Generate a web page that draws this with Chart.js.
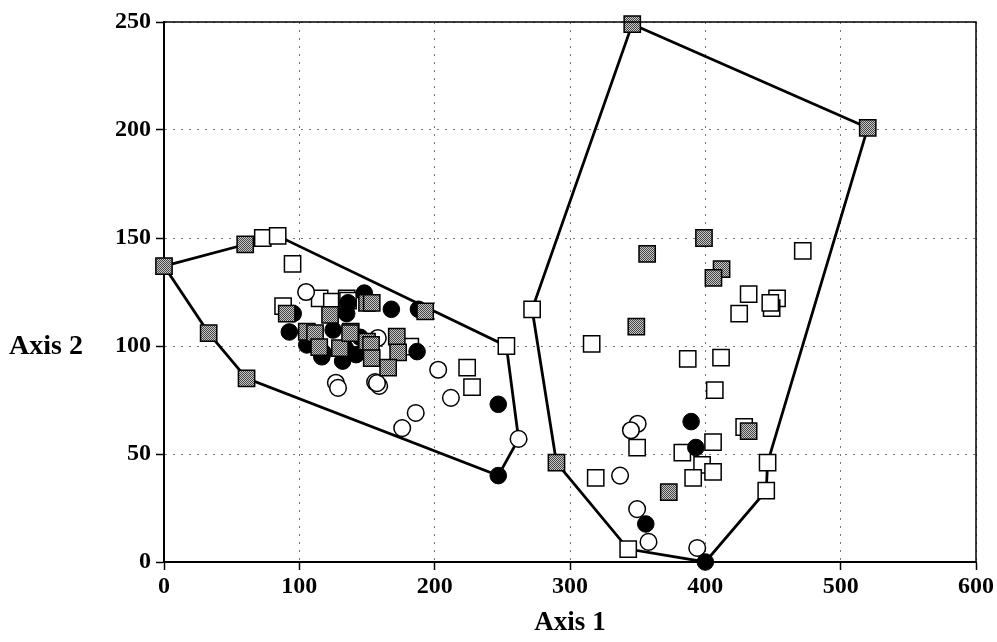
<!DOCTYPE html>
<html>
<head>
<meta charset="utf-8">
<script src="https://cdn.jsdelivr.net/npm/chart.js@4.4.1/dist/chart.umd.min.js"></script>
<style>
  html, body { margin: 0; padding: 0; background: #fff; }
  #wrap { width: 997px; height: 642px; position: relative; }
</style>
</head>
<body>
<div id="wrap"><canvas id="chart" width="997" height="642"></canvas></div>
<script>
// axis ticks
const xTicks = [0, 100, 200, 300, 400, 500, 600];
const yTicks = [0, 50, 100, 150, 200, 250];

// filled circles
const blackCircles = [
  [95.5, 115], [92.6, 106.5], [105.5, 100.5], [117.5, 97], [125, 107.4], [135, 115],
  [136, 120], [132, 93], [142, 96], [145, 104], [148, 124.5], [168, 117], [188, 117],
  [187, 97.4], [148.6, 97.4], [134, 99], [116.6, 95], [247, 73], [247, 40],
  [389.5, 65], [393, 53], [356, 17.6], [400, 0]
];

// open circles
const openCircles = [
  [105, 125], [127, 83], [128.6, 80.6], [156, 83.3], [159, 81.5], [157.4, 82.8],
  [158, 103.7], [202.6, 89], [212, 76], [186, 69], [176, 62], [262, 57],
  [350, 64], [345, 61], [337, 40], [349.6, 24.5], [358, 9.3], [394, 6.5]
];

// open squares
const openSquares = [
  [73, 150], [84, 151], [95, 138], [88, 118.5], [115, 122], [124, 120.5], [135, 122],
  [136, 121], [182, 99.7], [224, 90], [227.6, 81], [253, 100],
  [272, 117], [343, 6], [446, 46], [445, 33], [472, 144], [432, 124], [453, 122],
  [449, 117.5], [448, 120], [425, 115], [316, 101], [387, 94], [411.6, 94.6],
  [407, 79.6], [349.6, 53], [405.7, 55.5], [383, 50.6], [397.6, 45], [405.7, 41.7],
  [391, 39], [428.7, 62.5], [319, 39]
];

// shaded squares
const graySquares = [
  [0, 137], [60, 147], [61, 85], [33, 106], [90.7, 115], [105.5, 106.6], [111.6, 106],
  [114.7, 99.5], [122.7, 114.4], [138, 106.6], [130, 99], [150, 102], [150, 120],
  [153.5, 120], [193, 116], [153, 100.5], [172, 104.3], [173, 97], [153.5, 94.4],
  [165.6, 90], [137.5, 106],
  [346, 249], [520, 201], [290, 46], [357, 142.6], [399, 150], [412, 135.6],
  [406, 131.5], [349, 109], [432, 60.6], [373, 32.4]
];

// hull outlines
const hullLeft = [[0, 137], [60, 147], [73, 150], [84, 151], [253, 100], [262, 57], [247, 40], [61, 85], [33, 106], [0, 137]];
const hullRight = [[346, 249], [520, 201], [446, 46], [445, 33], [400, 0], [343, 6], [290, 46], [272, 117], [346, 249]];

const toPts = arr => arr.map(p => ({ x: p[0], y: p[1] }));

// stipple fill for the shaded squares
const makeStipple = () => {
  const c = document.createElement('canvas');
  c.width = 2; c.height = 2;
  const g = c.getContext('2d');
  g.fillStyle = '#c8c8c8'; g.fillRect(0, 0, 2, 2);
  g.fillStyle = '#444'; g.fillRect(0, 0, 1, 1); g.fillRect(1, 1, 1, 1);
  return g.createPattern(c, 'repeat');
};
const stipple = makeStipple();

const serif = '"Liberation Serif", "Times New Roman", serif';

const frame = {
  id: 'frame',
  afterDraw(chart) {
    const { ctx, chartArea: a } = chart;
    ctx.save();
    ctx.strokeStyle = '#000';
    ctx.lineWidth = 1.5;
    ctx.beginPath();
    ctx.moveTo(a.left, a.top); ctx.lineTo(a.right, a.top); ctx.lineTo(a.right, a.bottom);
    ctx.stroke();
    ctx.fillStyle = '#000';
    ctx.font = 'bold 28px ' + serif;
    ctx.textBaseline = 'middle';
    ctx.fillText('Axis 2', 9, 347);
    ctx.restore();
  }
};

const hullStyle = {
  showLine: true, borderColor: '#000', borderWidth: 2.8, pointRadius: 0,
  fill: false, tension: 0, order: 10, clip: false
};

new Chart(document.getElementById('chart'), {
  type: 'scatter',
  data: {
    datasets: [
      Object.assign({ data: toPts(hullLeft) }, hullStyle),
      Object.assign({ data: toPts(hullRight) }, hullStyle),
      { data: toPts(openSquares), pointStyle: 'rect', pointRadius: 11.5, backgroundColor: '#fff', borderColor: '#000', borderWidth: 1.5, order: 4, clip: false },
      { data: toPts(openCircles), pointStyle: 'circle', pointRadius: 8.3, backgroundColor: '#fff', borderColor: '#000', borderWidth: 1.5, order: 3, clip: false },
      { data: toPts(blackCircles), pointStyle: 'circle', pointRadius: 8.3, backgroundColor: '#000', borderColor: '#000', borderWidth: 1, order: 2, clip: false },
      { data: toPts(graySquares), pointStyle: 'rect', pointRadius: 11.5, backgroundColor: stipple, borderColor: '#000', borderWidth: 1.5, order: 1, clip: false }
    ]
  },
  options: {
    responsive: false,
    animation: false,
    layout: { padding: { top: 22, right: 21, left: 0, bottom: 0 } },
    plugins: { legend: { display: false }, tooltip: { enabled: false } },
    scales: {
      x: {
        type: 'linear', min: 0, max: 600,
        afterBuildTicks: s => { s.ticks = xTicks.map(v => ({ value: v })); },
        afterFit: s => { s.height = 80; },
        ticks: { color: '#000', font: { family: serif, size: 24, weight: 'bold' }, padding: 2 },
        grid: { color: '#777', lineWidth: 1, tickLength: 8, tickColor: '#000', tickWidth: 1.5, tickBorderDash: [] },
        border: { color: '#000', width: 2, dash: [2, 6] },
        title: { display: true, text: 'Axis 1', color: '#000', font: { family: serif, size: 27, weight: 'bold' }, padding: { top: 0, bottom: 3 } }
      },
      y: {
        type: 'linear', min: 0, max: 250,
        afterBuildTicks: s => { s.ticks = yTicks.map(v => ({ value: v })); },
        afterFit: s => { s.width = 164; },
        ticks: { color: '#000', font: { family: serif, size: 24, weight: 'bold' }, padding: 5 },
        grid: { color: '#777', lineWidth: 1, tickLength: 8, tickColor: '#000', tickWidth: 1.5, tickBorderDash: [] },
        border: { color: '#000', width: 2, dash: [2, 6] }
      }
    }
  },
  plugins: [frame]
});
</script>
</body>
</html>
